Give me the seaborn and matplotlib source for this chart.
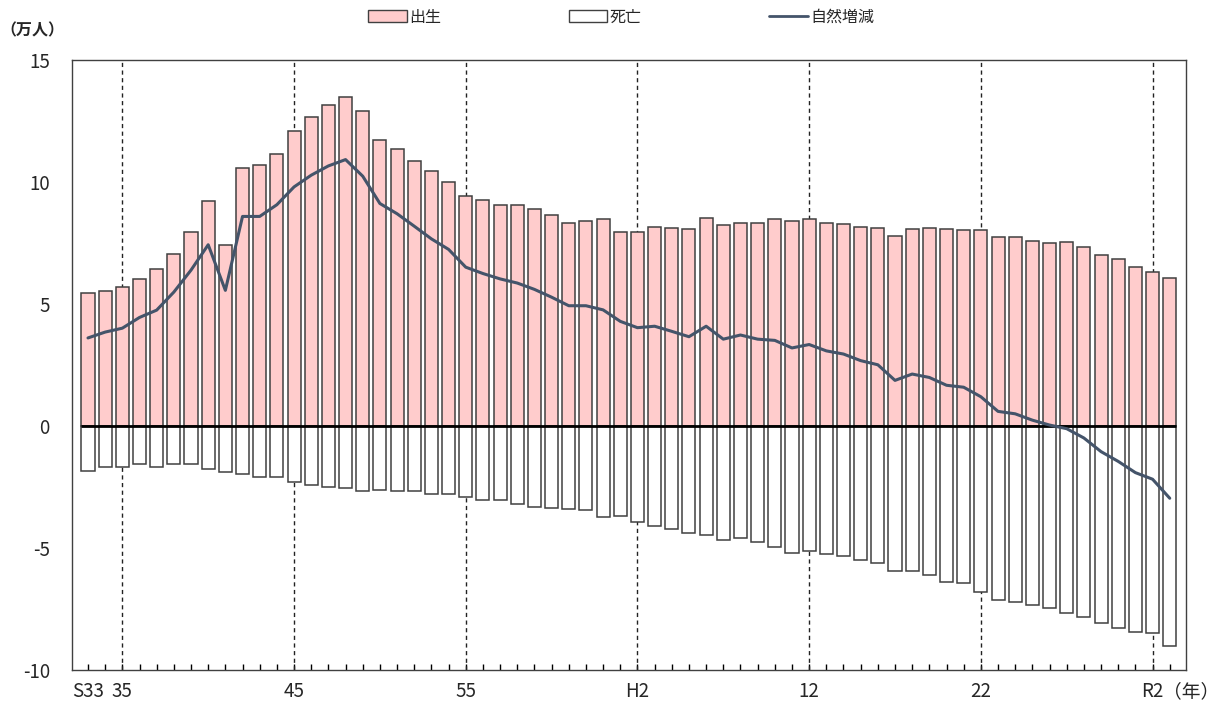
import numpy as np
import pandas as pd
import matplotlib
matplotlib.use('Agg')
import matplotlib.pyplot as plt
import matplotlib.transforms as mtransforms
from matplotlib.patches import Patch
from matplotlib.lines import Line2D
import seaborn as sns

# data (unit: 万人), 1958 (S33) .. 2021 (R3)
years = list(range(1958, 2022))
births = [5.44, 5.52, 5.68, 6.01, 6.42, 7.05, 7.95, 9.21, 7.43, 10.57,
          10.68, 11.16, 12.10, 12.68, 13.17, 13.48, 12.90, 11.73, 11.36, 10.85,
          10.44, 10.01, 9.43, 9.28, 9.06, 9.06, 8.91, 8.63, 8.33, 8.39,
          8.48, 7.96, 7.96, 8.17, 8.11, 8.06, 8.54, 8.22, 8.33, 8.33,
          8.48, 8.39, 8.48, 8.33, 8.28, 8.17, 8.11, 7.80, 8.06, 8.11,
          8.06, 8.02, 8.02, 7.73, 7.73, 7.58, 7.49, 7.54, 7.32, 7.01,
          6.84, 6.53, 6.32, 6.07]
deaths = [-1.83, -1.67, -1.67, -1.56, -1.67, -1.56, -1.56, -1.78, -1.87, -1.98,
          -2.09, -2.09, -2.30, -2.40, -2.51, -2.56, -2.66, -2.61, -2.66, -2.66,
          -2.77, -2.77, -2.92, -3.03, -3.03, -3.20, -3.31, -3.35, -3.40, -3.46,
          -3.72, -3.67, -3.93, -4.08, -4.23, -4.40, -4.45, -4.66, -4.60, -4.77,
          -4.97, -5.19, -5.14, -5.25, -5.33, -5.49, -5.60, -5.93, -5.93, -6.12,
          -6.39, -6.43, -6.82, -7.13, -7.23, -7.34, -7.45, -7.65, -7.81, -8.06,
          -8.29, -8.44, -8.50, -9.03]
natural = [3.61, 3.85, 4.01, 4.45, 4.75, 5.49, 6.39, 7.43, 5.56, 8.59,
           8.59, 9.07, 9.80, 10.28, 10.66, 10.92, 10.24, 9.12, 8.70, 8.19,
           7.67, 7.24, 6.51, 6.25, 6.03, 5.86, 5.60, 5.28, 4.93, 4.93,
           4.76, 4.29, 4.03, 4.09, 3.88, 3.66, 4.09, 3.56, 3.73, 3.56,
           3.51, 3.20, 3.34, 3.08, 2.95, 2.68, 2.51, 1.87, 2.13, 1.99,
           1.67, 1.59, 1.20, 0.60, 0.50, 0.24, 0.04, -0.11, -0.49, -1.05,
           -1.45, -1.91, -2.18, -2.96]
label_years = [1958, 1960, 1970, 1980, 1990, 2000, 2010, 2020]
label_texts = ['S33', '35', '45', '55', 'H2', '12', '22', 'R2']
guide_years = [1960, 1970, 1980, 1990, 2000, 2010, 2020]

df = pd.DataFrame({'year': years, 'birth': births, 'death': deaths, 'natural': natural})

sns.set_style('white')
plt.rcParams['font.family'] = ['Noto Sans CJK JP', 'DejaVu Sans']
plt.rcParams['axes.unicode_minus'] = False

fig = plt.figure(figsize=(12.25, 7.13), dpi=100)
ax = fig.add_axes([0.0588, 0.0603, 0.9094, 0.8555])

edge = '#404040'
for y in guide_years:
    ax.axvline(y, color='#222222', lw=1, ls=(0, (3, 2.5)), zorder=1)

sns.barplot(data=df, x='year', y='birth', native_scale=True, color='#FFCCCC',
            saturation=1, edgecolor=edge, linewidth=1.1, width=0.76, ax=ax, zorder=2)
sns.barplot(data=df, x='year', y='death', native_scale=True, color='white',
            saturation=1, edgecolor=edge, linewidth=1.1, width=0.76, ax=ax, zorder=2)
ax.hlines(0, years[0] - 0.38, years[-1] + 0.38, color='black', lw=2, zorder=3)
sns.lineplot(data=df, x='year', y='natural', color='#44546A', linewidth=2.2, ax=ax, zorder=4)

ax.set_xlim(years[0] - 0.93, years[-1] + 0.95)
ax.set_ylim(-10, 15)
ax.set_yticks([-10, -5, 0, 5, 10, 15])
ax.set_yticklabels(['-10', '-5', '0', '5', '10', '15'])
ax.set_xticks(label_years)
ax.set_xticklabels(label_texts)
ax.set_xticks(years, minor=True)
ax.tick_params(axis='x', which='both', direction='in', length=4, width=1,
               color='black', bottom=True, labelsize=13.5, pad=8)
ax.tick_params(axis='y', length=0, labelsize=13.5, pad=16)
ax.set_xlabel('')
ax.set_ylabel('')
for s in ax.spines.values():
    s.set_color(edge)
    s.set_linewidth(1)
    s.set_visible(True)

trans = mtransforms.blended_transform_factory(ax.transData, fig.transFigure)
ax.text(2020.6, 1 - 692 / 713, '（年）', transform=trans, ha='left', va='center', fontsize=13.5)
fig.text(0.0, 1 - 30 / 713, '（万人）', ha='left', va='center', fontsize=11.5, fontweight='bold')

handles = [Patch(facecolor='#FFCCCC', edgecolor=edge, lw=1),
           Patch(facecolor='white', edgecolor=edge, lw=1),
           Line2D([], [], color='#44546A', lw=2)]
fig.legend(handles, ['出生', '死亡', '自然増減'], loc='center', bbox_to_anchor=(0.507, 0.976),
           ncol=3, frameon=False, fontsize=11.5, handlelength=2.4, handleheight=0.8,
           handletextpad=0.15, columnspacing=8.0)

fig.savefig('out.png', dpi=100)
